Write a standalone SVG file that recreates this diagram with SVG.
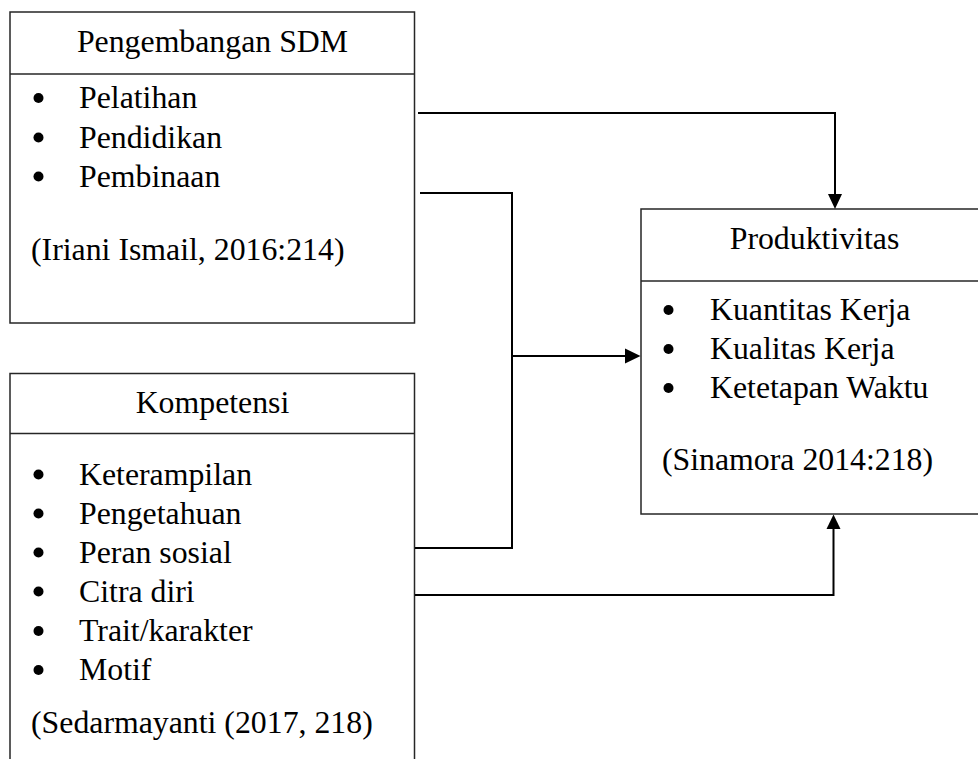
<svg xmlns="http://www.w3.org/2000/svg" width="978" height="759" viewBox="0 0 978 759">
<style>
.box{fill:#fff;stroke:#262626;stroke-width:1.5}
.div{stroke:#262626;stroke-width:1.5}
.t{font-family:"Liberation Serif","Times New Roman",serif;font-size:31.8px;fill:#000}
.c{text-anchor:middle}
.b{fill:#000}
.con{fill:none;stroke:#000;stroke-width:2}
.ah{fill:#000}
</style>
<rect width="978" height="759" fill="#fff"/>
<g id="pengembangan">
<rect class="box" x="10" y="12" width="404.5" height="311"/>
<line class="div" x1="10" y1="74" x2="414.5" y2="74"/>
<text class="t c" x="212.5" y="52">Pengembangan SDM</text>
<circle class="b" cx="38.5" cy="98" r="5"/>
<text class="t" x="79" y="108">Pelatihan</text>
<circle class="b" cx="38.5" cy="137.5" r="5"/>
<text class="t" x="79" y="147.5">Pendidikan</text>
<circle class="b" cx="38.5" cy="176.5" r="5"/>
<text class="t" x="79" y="186.5">Pembinaan</text>
<text class="t" x="31" y="260">(Iriani Ismail, 2016:214)</text>
</g>
<g id="kompetensi">
<rect class="box" x="10" y="373.5" width="404.5" height="400"/>
<line class="div" x1="10" y1="433.5" x2="414.5" y2="433.5"/>
<text class="t c" x="212.5" y="413">Kompetensi</text>
<circle class="b" cx="38.5" cy="474.5" r="5"/>
<text class="t" x="79" y="484.5">Keterampilan</text>
<circle class="b" cx="38.5" cy="513.5" r="5"/>
<text class="t" x="79" y="523.5">Pengetahuan</text>
<circle class="b" cx="38.5" cy="552.5" r="5"/>
<text class="t" x="79" y="562.5">Peran sosial</text>
<circle class="b" cx="38.5" cy="591.5" r="5"/>
<text class="t" x="79" y="601.5">Citra diri</text>
<circle class="b" cx="38.5" cy="631" r="5"/>
<text class="t" x="79" y="641">Trait/karakter</text>
<circle class="b" cx="38.5" cy="670" r="5"/>
<text class="t" x="79" y="680">Motif</text>
<text class="t" x="31" y="733">(Sedarmayanti (2017, 218)</text>
</g>
<g id="produktivitas">
<rect class="box" x="641" y="209" width="348" height="305"/>
<line class="div" x1="641" y1="281" x2="989" y2="281"/>
<text class="t c" x="814.5" y="249">Produktivitas</text>
<circle class="b" cx="668.5" cy="310" r="5"/>
<text class="t" x="710" y="320">Kuantitas Kerja</text>
<circle class="b" cx="668.5" cy="349" r="5"/>
<text class="t" x="710" y="359">Kualitas Kerja</text>
<circle class="b" cx="668.5" cy="388" r="5"/>
<text class="t" x="710" y="398">Ketetapan Waktu</text>
<text class="t" x="662" y="470">(Sinamora 2014:218)</text>
</g>
<g id="connectors">
<polyline class="con" points="418,113 835,113 835,195"/>
<polygon class="ah" points="828,194 842,194 835,209"/>
<polyline class="con" points="420,193 512,193 512,548 415,548"/>
<line class="con" x1="512" y1="356" x2="626" y2="356"/>
<polygon class="ah" points="625,348.5 625,363.5 640.5,356"/>
<polyline class="con" points="415,595 833.5,595 833.5,528"/>
<polygon class="ah" points="826.5,529 840.5,529 833.5,514.5"/>
</g>
</svg>
